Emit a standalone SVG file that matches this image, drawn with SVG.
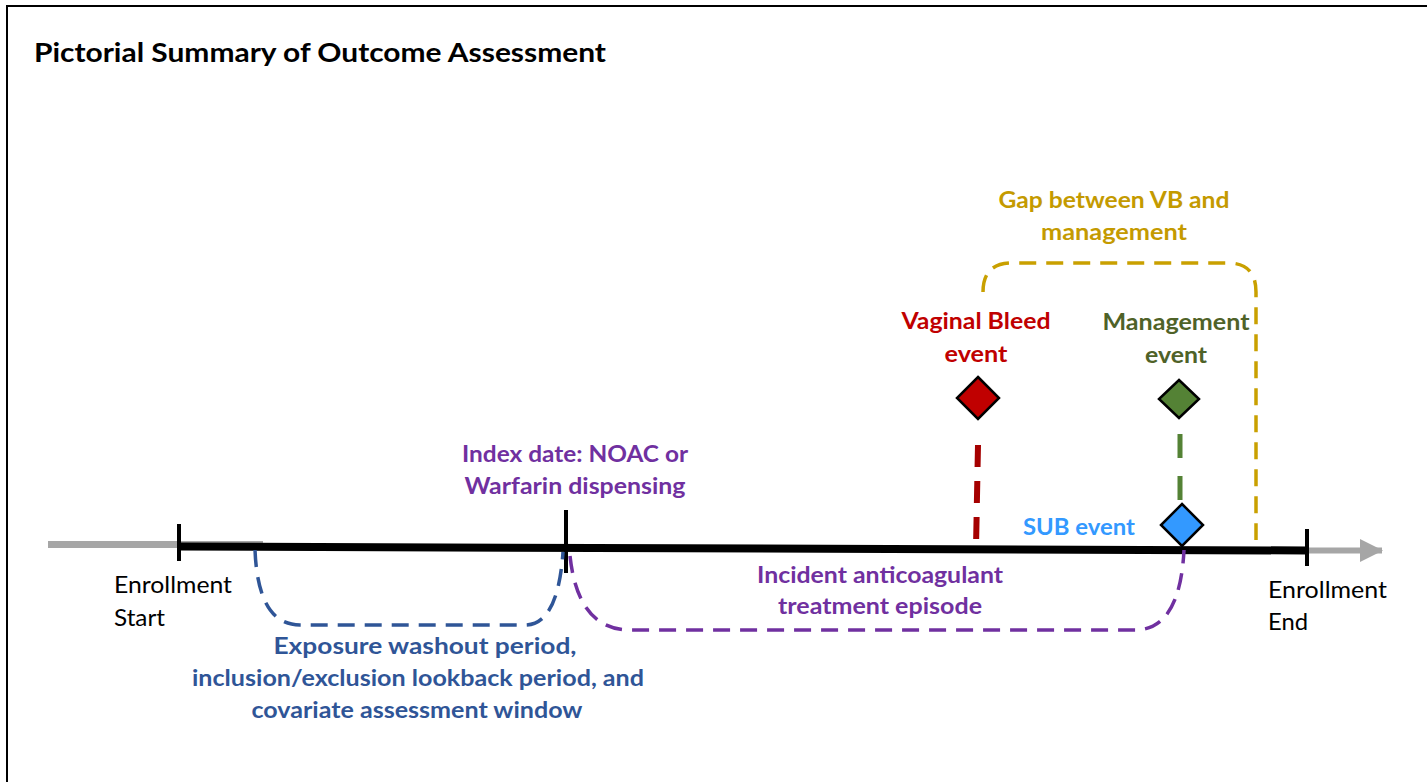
<svg xmlns="http://www.w3.org/2000/svg" width="1427" height="782" viewBox="0 0 1427 782">
<style>
  text { font-family: Lato, "Liberation Sans", sans-serif; }
  .b { font-weight: bold; font-size: 23px; text-anchor: middle; }
  .r { font-size: 23px; }
  .purple { fill: #7030A0; }
  .navy { fill: #2F5597; }
  .red { fill: #C00000; }
  .dgreen { fill: #4F6228; }
  .gold { fill: #C49A00; }
  .sky { fill: #3399FF; }
  .dash { fill: none; stroke-width: 3.5; stroke-dasharray: 17 10; }
  .diamond { stroke: #000; stroke-width: 2.5; }
</style>
<defs>
  <marker id="arrowGray" markerWidth="24" markerHeight="24" refX="22" refY="12" orient="auto" markerUnits="userSpaceOnUse">
    <path d="M0,0.5 L23,12 L0,23.5 Z" fill="#A6A6A6"/>
  </marker>
</defs>
<rect width="1427" height="782" fill="#fff"/>
<path d="M7,790 L7,6 L1440,6" fill="none" stroke="#000" stroke-width="2"/>
<text x="34" y="62" font-size="27" font-weight="bold" textLength="572" lengthAdjust="spacingAndGlyphs" fill="#000">Pictorial Summary of Outcome Assessment</text>

<g id="connectors">
  <line x1="48" y1="544.5" x2="263" y2="544.5" stroke="#A6A6A6" stroke-width="7"/>
  <line x1="1307" y1="550.5" x2="1382" y2="550.5" stroke="#A6A6A6" stroke-width="6" marker-end="url(#arrowGray)"/>
  <line x1="178" y1="546.5" x2="1307" y2="550.5" stroke="#000" stroke-width="8"/>
  <line x1="179" y1="524" x2="179" y2="561" stroke="#000" stroke-width="4"/>
  <line x1="566" y1="510" x2="566" y2="573" stroke="#000" stroke-width="4"/>
  <line x1="1307" y1="529" x2="1307" y2="566" stroke="#000" stroke-width="4"/>
  <path class="dash" stroke="#2F5597" d="M255,550 Q258,625 300,625 L525,625 Q558,625 563,552"/>
  <path class="dash" stroke="#7030A0" d="M570,556 Q578,630 630,630 L1135,630 Q1180,630 1184,550"/>
  <path class="dash" stroke="#C9A000" d="M983,292 Q983,263 1012,263 L1228,263 Q1256,263 1256,292 L1256,540"/>
  <line x1="978" y1="445" x2="976" y2="548" stroke="#A50000" stroke-width="6" stroke-dasharray="22 14"/>
  <line x1="1180" y1="434" x2="1180" y2="500" stroke="#548235" stroke-width="5" stroke-dasharray="24 18"/>
</g>

<g id="enrollment-start">
  <text class="r" x="114" y="593" textLength="118" lengthAdjust="spacingAndGlyphs" fill="#000">Enrollment</text>
  <text class="r" x="114" y="626" textLength="51" lengthAdjust="spacingAndGlyphs" fill="#000">Start</text>
</g>
<g id="enrollment-end">
  <text class="r" x="1268" y="598" textLength="119" lengthAdjust="spacingAndGlyphs" fill="#000">Enrollment</text>
  <text class="r" x="1268" y="630" textLength="40" lengthAdjust="spacingAndGlyphs" fill="#000">End</text>
</g>
<g id="index-date">
  <text class="b purple" x="575" y="462" textLength="226" lengthAdjust="spacingAndGlyphs">Index date: NOAC or</text>
  <text class="b purple" x="575" y="494" textLength="221" lengthAdjust="spacingAndGlyphs">Warfarin dispensing</text>
</g>
<g id="exposure-window">
  <text class="b navy" x="425" y="654" textLength="303" lengthAdjust="spacingAndGlyphs">Exposure washout period,</text>
  <text class="b navy" x="418" y="686" textLength="452" lengthAdjust="spacingAndGlyphs">inclusion/exclusion lookback period, and</text>
  <text class="b navy" x="417" y="718" textLength="331" lengthAdjust="spacingAndGlyphs">covariate assessment window</text>
</g>
<g id="treatment-episode">
  <text class="b purple" x="880" y="583" textLength="246" lengthAdjust="spacingAndGlyphs">Incident anticoagulant</text>
  <text class="b purple" x="880" y="614" textLength="204" lengthAdjust="spacingAndGlyphs">treatment episode</text>
</g>
<g id="vaginal-bleed">
  <text class="b red" x="976" y="329" textLength="149" lengthAdjust="spacingAndGlyphs">Vaginal Bleed</text>
  <text class="b red" x="976" y="362" textLength="63" lengthAdjust="spacingAndGlyphs">event</text>
  <polygon class="diamond" fill="#C00000" points="978,377 999,398 978,419 957,398"/>
</g>
<g id="management">
  <text class="b dgreen" x="1176" y="330" textLength="147" lengthAdjust="spacingAndGlyphs">Management</text>
  <text class="b dgreen" x="1176" y="363" textLength="62" lengthAdjust="spacingAndGlyphs">event</text>
  <polygon class="diamond" fill="#548235" points="1179,380 1199,399 1179,418 1159,399"/>
</g>
<g id="sub-event">
  <text class="b sky" x="1079" y="535" textLength="112" lengthAdjust="spacingAndGlyphs">SUB event</text>
  <polygon class="diamond" fill="#3399FF" points="1182,504 1203,525 1182,546 1161,525"/>
</g>
<g id="gap">
  <text class="b gold" x="1114" y="208" textLength="231" lengthAdjust="spacingAndGlyphs">Gap between VB and</text>
  <text class="b gold" x="1114" y="240" textLength="146" lengthAdjust="spacingAndGlyphs">management</text>
</g>
</svg>
